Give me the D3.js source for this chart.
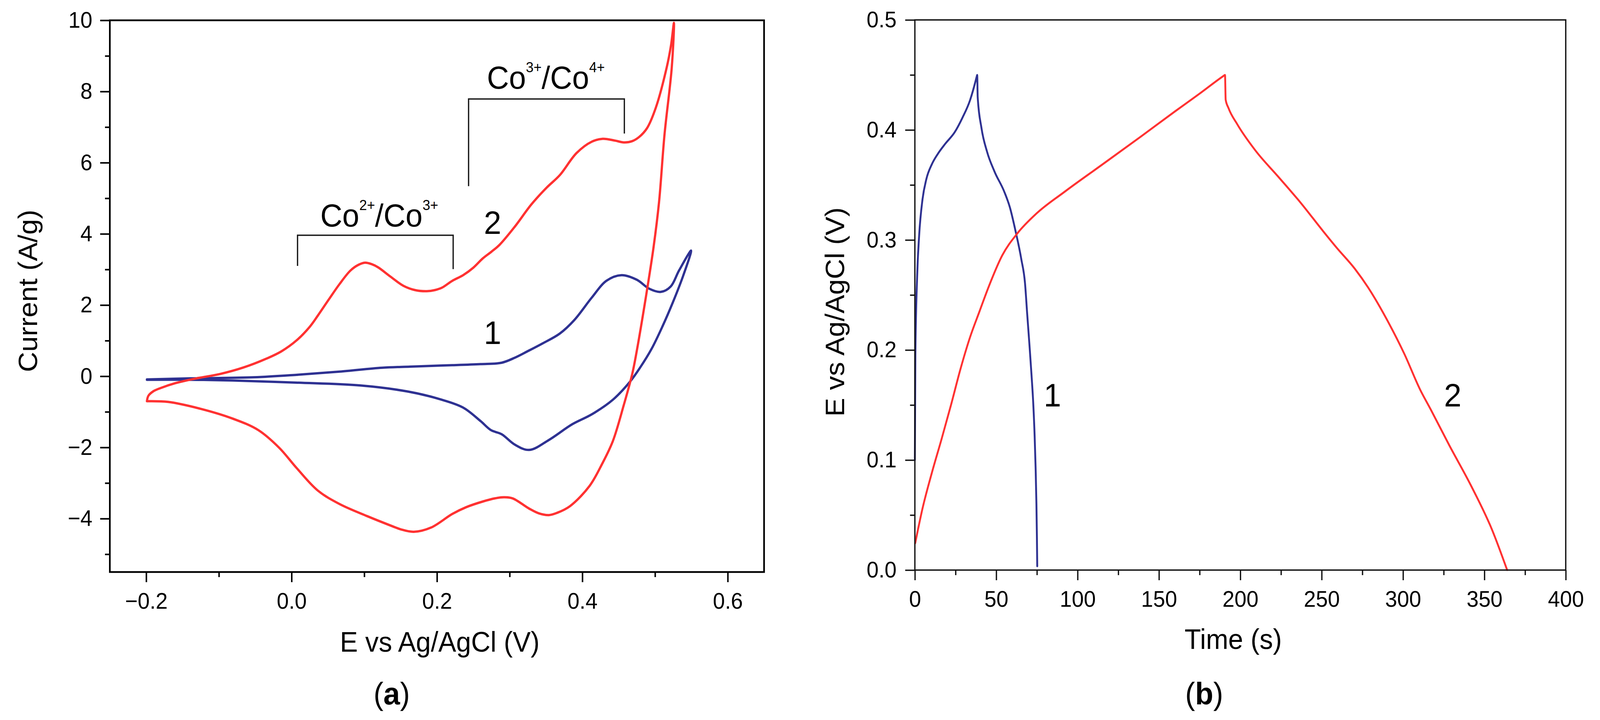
<!DOCTYPE html>
<html><head><meta charset="utf-8">
<script src="https://cdn.jsdelivr.net/npm/d3@7"></script>
<style>
html,body{margin:0;padding:0;background:#fff;overflow:hidden;width:100%;height:100%}
svg{display:block;width:100vw;height:100vh}
text{font-family:"Liberation Sans",Arial,Helvetica,sans-serif;fill:#000}
</style>
</head><body>
<svg id="chart" viewBox="0 0 4297 1844" preserveAspectRatio="none"></svg>
<script>
// ---------- data: panel (a) cyclic voltammetry ----------
const cvXTicks = [-0.2, 0.0, 0.2, 0.4, 0.6];
const cvXMinor = [-0.1, 0.1, 0.3, 0.5];
const cvYTicks = [-4, -2, 0, 2, 4, 6, 8, 10];
const cvYMinor = [-5, -3, -1, 1, 3, 5, 7, 9];

// curve 1 (blue): [E (V), current (A/g)]
const cv1 = [
  [-0.199,-0.09],[-0.14,-0.06],[-0.052,-0.03],[0.007,0.04],[0.066,0.13],[0.125,0.24],
  [0.163,0.27],[0.204,0.30],[0.221,0.31],[0.260,0.34],[0.289,0.38],[0.307,0.52],[0.3245,0.70],
  [0.346,0.93],[0.369,1.20],[0.389,1.58],[0.413,2.21],[0.433,2.68],[0.454,2.84],[0.475,2.71],
  [0.492,2.46],[0.508,2.37],[0.5215,2.52],[0.533,2.97],[0.5496,3.53],
  [0.539,2.84],[0.5246,2.08],[0.510,1.39],[0.495,0.76],[0.480,0.26],[0.4657,-0.15],
  [0.442,-0.66],[0.413,-1.07],[0.386,-1.35],[0.354,-1.79],[0.327,-2.07],[0.307,-1.92],
  [0.289,-1.63],[0.274,-1.51],[0.260,-1.26],[0.236,-0.88],[0.205,-0.65],[0.160,-0.43],
  [0.095,-0.26],[0.007,-0.18],[-0.081,-0.12],[-0.14,-0.10],[-0.199,-0.10]
];
// curve 2 (red)
const cv2 = [
  [-0.199,-0.70],[-0.197,-0.55],[-0.190,-0.42],[-0.180,-0.33],[-0.161,-0.20],[-0.131,-0.06],
  [-0.099,0.06],[-0.067,0.24],[-0.034,0.50],[-0.014,0.70],[0.007,1.01],[0.025,1.39],
  [0.036,1.70],[0.051,2.15],[0.066,2.59],[0.081,2.97],[0.092,3.13],[0.101,3.19],[0.110,3.15],
  [0.119,3.06],[0.136,2.80],[0.154,2.54],[0.170,2.42],[0.186,2.39],[0.197,2.42],[0.207,2.49],
  [0.221,2.68],[0.236,2.84],[0.250,3.05],[0.263,3.31],[0.275,3.50],[0.286,3.69],[0.307,4.20],
  [0.330,4.83],[0.351,5.30],[0.369,5.65],[0.392,6.27],[0.413,6.59],[0.428,6.67],[0.445,6.62],
  [0.457,6.57],[0.468,6.60],[0.478,6.72],[0.489,6.97],[0.501,7.54],[0.516,8.67],[0.522,9.30],
  [0.526,9.93],
  [0.523,8.67],[0.513,6.78],[0.5055,4.89],[0.498,3.63],[0.488,2.30],[0.4746,0.68],
  [0.4687,0.07],[0.457,-0.81],[0.442,-1.82],[0.4275,-2.45],[0.410,-3.08],[0.383,-3.65],
  [0.365,-3.84],[0.354,-3.90],[0.340,-3.85],[0.327,-3.72],[0.304,-3.43],[0.292,-3.40],
  [0.280,-3.43],[0.263,-3.52],[0.240,-3.68],[0.221,-3.87],[0.192,-4.25],[0.168,-4.37],
  [0.150,-4.30],[0.1395,-4.22],[0.104,-3.93],[0.066,-3.59],[0.036,-3.21],[0.007,-2.58],
  [-0.017,-2.01],[-0.046,-1.51],[-0.081,-1.19],[-0.126,-0.91],[-0.170,-0.72],[-0.196,-0.70],
  [-0.199,-0.70]
];
// bracket annotations [E, I]
const bracketCo23 = [[0.0082,3.10],[0.0082,3.96],[0.2223,3.96],[0.2223,3.01]];
const bracketCo34 = [[0.2435,5.34],[0.2435,7.79],[0.4578,7.79],[0.4578,6.82]];

// ---------- data: panel (b) galvanostatic charge/discharge ----------
const gcdXTicks = [0, 50, 100, 150, 200, 250, 300, 350, 400];
const gcdXMinor = [25, 75, 125, 175, 225, 275, 325, 375];
const gcdYTicks = [0.0, 0.1, 0.2, 0.3, 0.4, 0.5];
const gcdYMinor = [0.05, 0.15, 0.25, 0.35, 0.45];

// curve 1 (blue): [time (s), E (V)]
const gcd1 = [
  [0,0.100],[0.3,0.195],[1.4,0.267],[2.6,0.3035],[4.7,0.337],[7.0,0.355],[10.5,0.369],
  [14.0,0.378],[18.7,0.3875],[24.5,0.398],[29.2,0.411],[33.9,0.427],[37.4,0.445],[38.0,0.4485],
  [38.3,0.450],
  [38.6,0.430],[40.9,0.402],[44.4,0.380],[49.0,0.362],[54.9,0.344],[58.4,0.3296],[61.9,0.3079],
  [65.4,0.2826],[67.7,0.2605],[69.0,0.2333],[70.4,0.205],[71.7,0.177],[72.8,0.150],
  [73.6,0.122],[74.2,0.093],[74.7,0.060],[75.0,0.030],[75.2,0.0035]
];
// curve 2 (red)
const gcd2 = [
  [0.2,0.0244],[4.7,0.056],[10.5,0.0887],[16.4,0.119],[22.2,0.150],[28.0,0.1826],[33.9,0.2116],
  [39.7,0.235],[45.5,0.258],[53.7,0.286],[63.0,0.306],[74.7,0.324],[92.2,0.344],[115.6,0.369],
  [138.9,0.394],[160.0,0.417],[175.0,0.433],[189.8,0.4492],[190.6,0.450],[191.0,0.4275],
  [192.7,0.420],
  [198.2,0.405],[209.3,0.3813],[223.2,0.3577],[237.0,0.334],[250.9,0.308],[259.2,0.293],
  [270.3,0.274],[278.6,0.2567],[289.7,0.2287],[300.8,0.1965],[310.5,0.164],[317.0,0.146],
  [328.5,0.1132],[341.7,0.077],[354.8,0.0363],[364.0,0.0]
];

// ---------- drawing ----------
const svg = d3.select("#chart");
svg.append("rect").attr("width",4297).attr("height",1844).attr("fill","#fff");

const RED = "#ff3131", BLUE = "#2e3192";

function panel(opt){
  const g = svg.append("g");
  const x = opt.x, y = opt.y;
  const [x0,x1] = x.range(), [y0,y1] = y.range();
  const col = opt.axisColor;
  const minorX = g.append("g").attr("transform",`translate(0,${y0})`)
    .call(d3.axisBottom(x).tickValues(opt.xMinor).tickSize(13).tickSizeOuter(0).tickFormat(""));
  const minorY = g.append("g").attr("transform",`translate(${x0},0)`)
    .call(d3.axisLeft(y).tickValues(opt.yMinor).tickSize(13).tickSizeOuter(0).tickFormat(""));
  const ax = g.append("g").attr("transform",`translate(0,${y0})`)
    .call(d3.axisBottom(x).tickValues(opt.xTicks).tickSize(26).tickPadding(27).tickSizeOuter(0).tickFormat(opt.xFmt));
  const ay = g.append("g").attr("transform",`translate(${x0},0)`)
    .call(d3.axisLeft(y).tickValues(opt.yTicks).tickSize(26).tickPadding(opt.yPad).tickSizeOuter(0).tickFormat(opt.yFmt));
  [minorX,minorY,ax,ay].forEach(a=>{
    a.select(".domain").remove();
    a.selectAll(".tick line").attr("stroke",col).attr("stroke-width",opt.tickW);
    a.selectAll(".tick text").attr("font-size",58).attr("fill","#111")
      .attr("font-family",'"Liberation Sans",Arial,sans-serif');
  });
  const line = d3.line().x(d=>x(d[0])).y(d=>y(d[1])).curve(opt.curve);
  opt.series.forEach(s=>{
    g.append("path").datum(s.data).attr("d",line).attr("fill","none")
      .attr("stroke",s.color).attr("stroke-width",opt.lineW)
      .attr("stroke-linejoin","round").attr("stroke-linecap","round");
  });
  g.append("rect").attr("x",x0).attr("y",y1).attr("width",x1-x0).attr("height",y0-y1)
    .attr("fill","none").attr("stroke",col).attr("stroke-width",opt.frameW);
  return g;
}

// panel (a)
const xCv = d3.scaleLinear().domain([-0.25,0.65]).range([295,2052]);
const yCv = d3.scaleLinear().domain([-5.5,10]).range([1465,52]);
const ga = panel({
  x:xCv, y:yCv, xTicks:cvXTicks, xMinor:cvXMinor, yTicks:cvYTicks, yMinor:cvYMinor,
  xFmt:d3.format(".1f"), yFmt:d3.format("d"), yPad:21,
  curve:d3.curveCatmullRom.alpha(0.5), lineW:6, tickW:4, frameW:4.5, axisColor:"#000",
  series:[{data:cv1,color:BLUE},{data:cv2,color:RED}]
});
const bline = d3.line().x(d=>xCv(d[0])).y(d=>yCv(d[1]));
[bracketCo23,bracketCo34].forEach(b=>{
  ga.append("path").datum(b).attr("d",bline).attr("fill","none")
    .attr("stroke","#1a1a1a").attr("stroke-width",3.5);
});
function ionLabel(g, px, py, a, b){
  const t = g.append("text").attr("x",px).attr("y",py).attr("font-size",82);
  t.append("tspan").text("Co");
  t.append("tspan").attr("font-size",37).attr("dy",-42).text(a);
  t.append("tspan").attr("dy",42).text("/Co");
  t.append("tspan").attr("font-size",37).attr("dy",-42).text(b);
}
ionLabel(ga, xCv(0.0395), yCv(4.21), "2+", "3+");
ionLabel(ga, xCv(0.2687), yCv(8.08), "3+", "4+");
ga.append("text").attr("x",xCv(0.2646)).attr("y",yCv(4.0)).attr("font-size",84).text("2");
ga.append("text").attr("x",xCv(0.2646)).attr("y",yCv(0.906)).attr("font-size",84).text("1");
ga.append("text").attr("x",1181).attr("y",1669).attr("text-anchor","middle").attr("font-size",72)
  .text("E vs Ag/AgCl (V)");
ga.append("text").attr("transform","translate(100,745) rotate(-90)").attr("text-anchor","middle")
  .attr("font-size",72).text("Current (A/g)");

// panel (b)
const xG = d3.scaleLinear().domain([0,400]).range([2457,4205]);
const yG = d3.scaleLinear().domain([0,0.5]).range([1460,51]);
const gb = panel({
  x:xG, y:yG, xTicks:gcdXTicks, xMinor:gcdXMinor, yTicks:gcdYTicks, yMinor:gcdYMinor,
  xFmt:d3.format("d"), yFmt:d3.format(".1f"), yPad:23,
  curve:d3.curveMonotoneX, lineW:5, tickW:3.5, frameW:3.5, axisColor:"#111",
  series:[{data:gcd1,color:BLUE},{data:gcd2,color:RED}]
});
gb.append("text").attr("x",xG(79.2)).attr("y",yG(0.1487)).attr("font-size",84).text("1");
gb.append("text").attr("x",xG(325.2)).attr("y",yG(0.1487)).attr("font-size",84).text("2");
gb.append("text").attr("x",3312).attr("y",1662).attr("text-anchor","middle").attr("font-size",72)
  .text("Time (s)");
gb.append("text").attr("transform","translate(2267,799) rotate(-90)").attr("text-anchor","middle")
  .attr("font-size",72).text("E vs Ag/AgCl (V)");

function caption(cx, letter){
  const t = svg.append("text").attr("x",cx).attr("y",1804).attr("text-anchor","middle")
    .attr("font-size",80).attr("font-family",'"Liberation Serif","Times New Roman",serif');
  t.append("tspan").text("(");
  t.append("tspan").attr("font-weight","bold").text(letter);
  t.append("tspan").text(")");
}
caption(1052,"a");
caption(3234,"b");
</script>
</body></html>
